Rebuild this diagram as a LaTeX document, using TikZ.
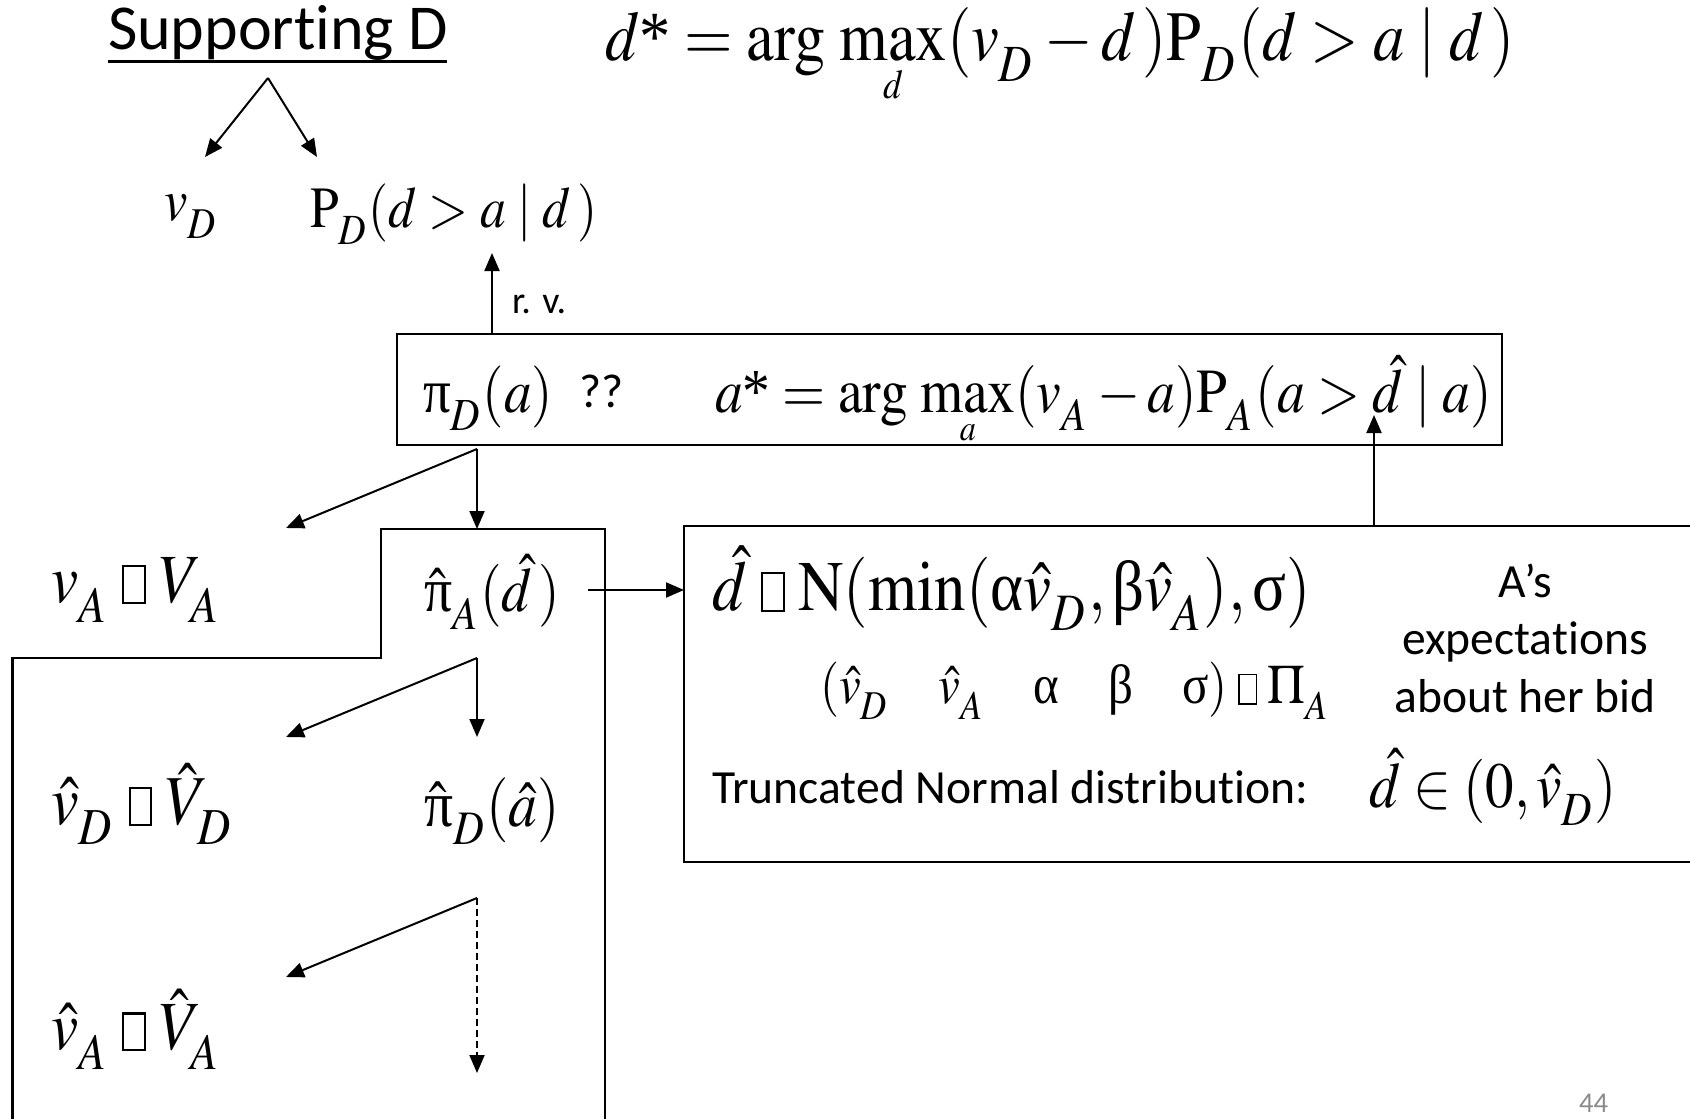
\documentclass[tikz,border=0pt]{standalone}
\usepackage{mathptmx}
\usepackage[no-math]{fontspec}
\setmainfont{Carlito}[Ligatures=NoCommon]
\newfontfamily\tnr{Liberation Serif}
\usepackage{graphicx}
\usetikzlibrary{arrows.meta}
\definecolor{pagegray}{HTML}{8A8A8A}
\newcommand\fm[2]{\scalebox{1}[1.13]{\resizebox{#1}{!}{$\displaystyle #2$}}}
\newcommand\nb{\mathrel{\mbox{\fboxsep=0pt\fboxrule=0.03em\fbox{\rule{0pt}{0.5em}\rule{0.32em}{0pt}}}}}
\newcommand\sbl[1]{_{\lower0.14em\hbox{$\scriptstyle #1$}}}
\newcommand\gpi{\mathord{\mbox{\tnr π}}}
\newcommand\gal{\mathord{\mbox{\tnr α}}}
\newcommand\gbe{\mathord{\mbox{\tnr β}}}
\newcommand\gsi{\mathord{\mbox{\tnr σ}}}
\newcommand\opt{\mbox{\tnr *}}
% max with a small limit set close below it
\newcommand\mymax[2]{\mathop{\hbox{\ooalign{$\mathrm{max}$\cr\hidewidth\raisebox{-#2}{\scalebox{0.58}{$#1$}}\hidewidth\cr}}}}
\begin{document}
\begin{tikzpicture}[x=0.5pt,y=-0.5pt,
  every node/.style={inner sep=0pt,outer sep=0pt},
  lbl/.style={anchor=base west},
  arr/.style={-{Triangle[length=9pt,width=7.5pt]},line width=1pt},
  darr/.style={arr,dash pattern=on 3.5pt off 2pt},
  frame/.style={line width=1.2pt},
  txt/.style={font=\fontsize{23.8}{28}\selectfont}]
\useasboundingbox (0,0) rectangle (1690,1118);
\clip (0,0) rectangle (1690,1118);

% title and top formula
\node[lbl,font=\fontsize{32}{38}\selectfont] (sup) at (108,50) {Supporting D};
\coordinate (ulL) at (108,62);
\coordinate (ulR) at (447,62);
\draw[line width=1.5pt] (ulL) -- (ulR);
\node[lbl] (topf) at (605,61) {\fm{455pt}{d\opt = \mathrm{arg}\,\mymax{d}{0.53em}(v\sbl{D} - d\,)\mathrm{P}\sbl{D}(d > a \;|\; d\,)}};

% supporting arrows
\coordinate (apex) at (268,78);
\coordinate (tipL) at (205,157);
\coordinate (tipR) at (317,157);
\draw[arr] (apex) -- (tipL);
\draw[arr] (apex) -- (tipR);
\node[lbl] (vD) at (164,221) {\fm{27pt}{v\sbl{D}}};
\node[lbl] (PD) at (310,228) {\fm{143.5pt}{\mathrm{P}\sbl{D}(d > a \;|\; d\,)}};

% box 1
\node[draw,frame,minimum width=552.5pt,minimum height=55.5pt] (box1) at (949.5,389.5) {};
\node[lbl] (piD) at (423,412) {\fm{65pt}{\gpi\sbl{D}(a)}};
\node[lbl,txt] (qq) at (579,407) {??};
\node[lbl] (astar) at (715,412) {\fm{388.5pt}{a\opt = \mathrm{arg}\,\mymax{a}{0.46em}(v\sbl{A} - a)\mathrm{P}\sbl{A}(a > \hat{d} \;|\; a)}};
\coordinate (rvtip) at (492,253);
\draw[arr] (box1.north -| rvtip) -- (rvtip);
\node[lbl,font=\fontsize{19}{22}\selectfont] (rv) at (512,313) {r. v.};

% step frame
\draw[frame] (12.5,1140) -- (12.5,658) -- (381,658) -- (381,529) -- (605,529) -- (605,1140);

% left column
\node[lbl] (vA) at (51,602) {\fm{85pt}{v\sbl{A} \nb V\sbl{A}}};
\node[lbl] (piA) at (424,611) {\fm{68pt}{\hat{\gpi}\sbl{A}(\hat{d}\,)}};
\node[lbl] (vhD) at (51,824) {\fm{91.5pt}{\hat{v}\sbl{D} \nb \hat{V}\sbl{D}}};
\node[lbl] (pihD) at (424,826) {\fm{68pt}{\hat{\gpi}\sbl{D}(\hat{a})}};
\node[lbl] (vhA) at (51,1049) {\fm{85pt}{\hat{v}\sbl{A} \nb \hat{V}\sbl{A}}};

\coordinate (s1) at (477,449);
\coordinate (s1d) at (477,529);
\coordinate (s1l) at (286,528);
\draw[arr] (s1) -- (s1d);
\draw[arr] (s1) -- (s1l);
\coordinate (s2) at (477,658);
\coordinate (s2d) at (477,737);
\coordinate (s2l) at (286,737);
\draw[arr] (s2) -- (s2d);
\draw[arr] (s2) -- (s2l);
\coordinate (s3) at (477,898);
\coordinate (s3d) at (477,1073);
\coordinate (s3l) at (286,977);
\draw[darr] (s3) -- (s3d);
\draw[arr] (s3) -- (s3l);

% box 2
\node[draw,frame,minimum width=508pt,minimum height=168pt] (box2) at (1192,694) {};
\coordinate (piAr) at (588,590);
\draw[arr] (piAr) -- (box2.west |- piAr);
\coordinate (dhat) at (1374,415);
\draw[arr] (box2.north -| dhat) -- (dhat);
\node[lbl] (dist) at (712,610) {\fm{299.5pt}{\hat{d} \nb \mathrm{N}(\min(\gal\hat{v}\sbl{D},\gbe\hat{v}\sbl{A}),\gsi)}};
\node[lbl] (params) at (820,703) {\fm{255pt}{(\hat{v}\sbl{D} \quad \hat{v}\sbl{A} \quad \gal \quad \gbe \quad \gsi) \nb \Pi\sbl{A}}};
\node[txt,anchor=base] (exp1) at (1525,597) {A’s};
\node[txt,anchor=base] (exp2) at (1525,654) {expectations};
\node[txt,anchor=base] (exp3) at (1525,712) {about her bid};
\node[txt,lbl] (trunc) at (712,803) {Truncated Normal distribution:};
\node[lbl] (range) at (1369,807) {\fm{124pt}{\hat{d} \in (0,\hat{v}\sbl{D})}};

% page number
\node[lbl,text=pagegray,font=\fontsize{14.3}{17}\selectfont] (pg) at (1579,1112) {44};
\end{tikzpicture}
\end{document}
